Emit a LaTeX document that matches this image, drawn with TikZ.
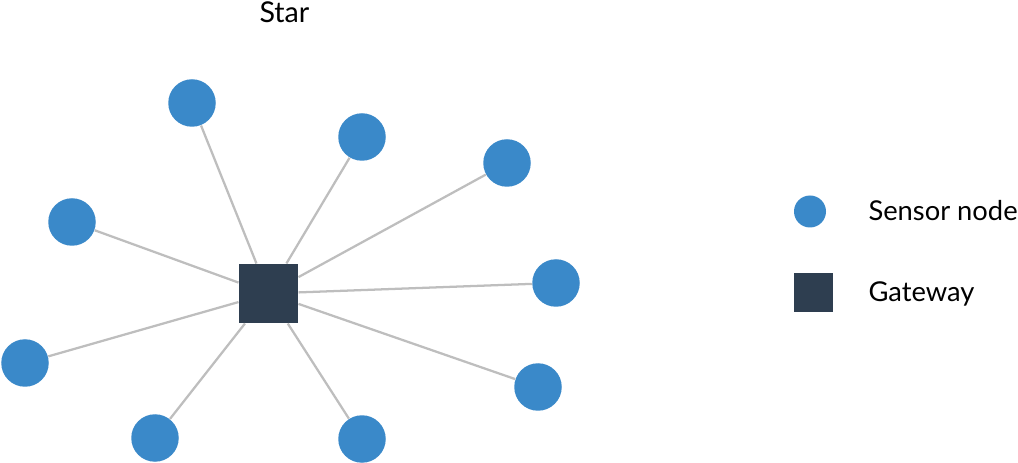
\documentclass[tikz,border=0pt]{standalone}
\usepackage{fontspec}
\setmainfont{Lato}
\definecolor{sensorblue}{RGB}{58,137,201}
\definecolor{gatewaydark}{RGB}{46,62,80}
\definecolor{linkgrey}{RGB}{190,190,190}
\tikzset{every picture/.style={line width=0.75pt}}
\tikzset{
  sensor/.style={circle,fill=sensorblue,draw=none,minimum size=47.5*0.75pt,inner sep=0pt},
  gateway/.style={rectangle,fill=gatewaydark,draw=none,minimum size=59*0.75pt,inner sep=0pt},
  link/.style={draw=linkgrey,line width=1.7pt},
  label/.style={anchor=base west,inner sep=0pt,font=\fontsize{20.5}{24}\selectfont}
}
\begin{document}
\begin{tikzpicture}[x=0.75pt,y=0.75pt,yscale=-1,xscale=1]
    \path[use as bounding box] (0,0) rectangle (1018,463); %set diagram to 1018 x 463

    %Shape: Rectangle [gateway]
    \node[gateway] (gw) at (268.5,293.5) {};

    %Shape: Circle [sensors]
    \node[sensor] (s1) at (192,103) {};
    \node[sensor] (s2) at (362,137) {};
    \node[sensor] (s3) at (507,163) {};
    \node[sensor] (s4) at (72,222) {};
    \node[sensor] (s5) at (556,283) {};
    \node[sensor] (s6) at (25,363) {};
    \node[sensor] (s7) at (538,387) {};
    \node[sensor] (s8) at (155,438) {};
    \node[sensor] (s9) at (362,439) {};

    %Straight Lines [links]
    \foreach \s in {s1,s2,s3,s4,s5,s6,s7,s8,s9}
        \draw[link] (gw) -- (\s);

    %Shape: Circle [legend]
    \node[sensor,minimum size=32*0.75pt] (legsensor) at (810,211.5) {};
    %Shape: Rectangle [legend]
    \node[gateway,minimum size=39*0.75pt] (leggw) at (813.5,292.5) {};

    % Text Node
    \node[label,font=\fontsize{21.5}{25}\selectfont] (title) at (259,23) {Star};
    % Text Node
    \node[label] (legsensortext) at (868,221) {Sensor node};
    % Text Node
    \node[label] (leggwtext) at (868,302) {Gateway};

\end{tikzpicture}
\end{document}
